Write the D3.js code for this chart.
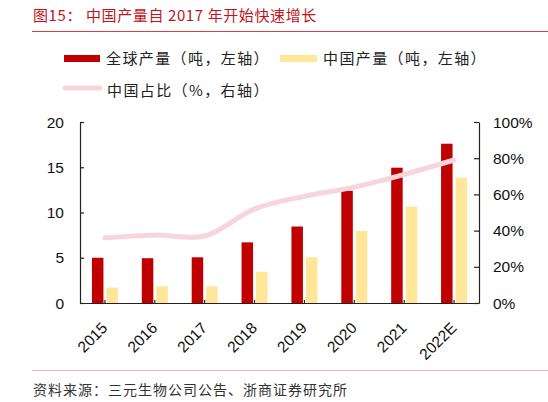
<!DOCTYPE html>
<html lang="zh">
<head>
<meta charset="utf-8">
<title>中国产量自2017年开始快速增长</title>
<script src="https://d3js.org/d3.v7.min.js"></script>
<style>
  body { margin: 0; background: #fff; overflow: hidden; }
  svg { display: block; }
</style>
</head>
<body>
<script>

// data
var years = ["2015", "2016", "2017", "2018", "2019", "2020", "2021", "2022E"];
var globalOutput = [5.0, 4.95, 5.05, 6.7, 8.45, 12.4, 14.95, 17.6];   // 吨, left axis
var chinaOutput = [1.7, 1.85, 1.85, 3.45, 5.05, 7.95, 10.65, 13.85];  // 吨, left axis
var chinaShare = [36, 37.5, 37, 52, 59, 64, 71, 79];                  // %, right axis
var leftTicks = [0, 5, 10, 15, 20];
var rightTicks = [0, 20, 40, 60, 80, 100];

var w = 548, h = 402;
var margin = {top: 122, right: 69, bottom: 99, left: 80};
var innerWidth = w - margin.left - margin.right;
var innerHeight = h - margin.top - margin.bottom;

var red = "#c00000", yellow = "#ffe699", pink = "#f6d5dc";
var cnFont = "'Noto Sans CJK SC', sans-serif";
var numFont = "'Liberation Sans', Arial, sans-serif";

var svg = d3.select("body").append("svg")
    .attr("width", w)
    .attr("height", h);

// title + rules
svg.append("text")
    .attr("x", 33).attr("y", 21)
    .attr("fill", "#c0141c")
    .style("font-family", cnFont)
    .style("font-size", "15px")
    .style("letter-spacing", "0.6px")
    .text("图15：   中国产量自 2017 年开始快速增长");

svg.append("line")
    .attr("x1", 32).attr("x2", w).attr("y1", 31.5).attr("y2", 31.5)
    .attr("stroke", "#c0141c").attr("stroke-width", 0.8);

svg.append("line")
    .attr("x1", 32).attr("x2", w).attr("y1", 370.5).attr("y2", 370.5)
    .attr("stroke", "#e8a0a0").attr("stroke-width", 0.8);

svg.append("text")
    .attr("x", 33).attr("y", 395)
    .attr("fill", "#333")
    .style("font-family", cnFont)
    .style("font-size", "14px")
    .style("letter-spacing", "1px")
    .text("资料来源：三元生物公司公告、浙商证券研究所");

// legend
var legend = svg.append("g").style("font-family", cnFont).style("font-size", "15px").style("letter-spacing", "1.4px");
legend.append("rect").attr("x", 64).attr("y", 55).attr("width", 36).attr("height", 7).attr("fill", red);
legend.append("text").attr("x", 106).attr("y", 64).attr("fill", "#222").text("全球产量（吨，左轴）");
legend.append("rect").attr("x", 280).attr("y", 55).attr("width", 37).attr("height", 7).attr("fill", yellow);
legend.append("text").attr("x", 323).attr("y", 64).attr("fill", "#222").text("中国产量（吨，左轴）");
legend.append("line").attr("x1", 65).attr("x2", 100).attr("y1", 88).attr("y2", 88)
    .attr("stroke", pink).attr("stroke-width", 5).attr("stroke-linecap", "round");
legend.append("text").attr("x", 107).attr("y", 96).attr("fill", "#222").text("中国占比（%，右轴）");

// scales (in page coordinates)
var xScale = d3.scaleBand().domain(years).range([margin.left, margin.left + innerWidth]);
var yLeft = d3.scaleLinear().domain([0, 20]).range([margin.top + innerHeight, margin.top]);
var yRight = d3.scaleLinear().domain([0, 100]).range([margin.top + innerHeight, margin.top]);
var baseY = margin.top + innerHeight;
var cx = d => xScale(d) + xScale.bandwidth() / 2;

var barW = 11.5;

svg.append("g").selectAll("rect")
    .data(years)
  .enter().append("rect")
    .attr("x", d => cx(d) - 13)
    .attr("y", (d, i) => yLeft(globalOutput[i]))
    .attr("width", barW)
    .attr("height", (d, i) => baseY - yLeft(globalOutput[i]))
    .attr("fill", red);

svg.append("g").selectAll("rect")
    .data(years)
  .enter().append("rect")
    .attr("x", d => cx(d) + 1.5)
    .attr("y", (d, i) => yLeft(chinaOutput[i]))
    .attr("width", barW)
    .attr("height", (d, i) => baseY - yLeft(chinaOutput[i]))
    .attr("fill", yellow);

// share line
var line = d3.line()
    .x((d, i) => cx(years[i]))
    .y(d => yRight(d))
    .curve(d3.curveCatmullRom.alpha(0.5));

svg.append("path")
    .datum(chinaShare)
    .attr("d", line)
    .attr("fill", "none")
    .attr("stroke", pink)
    .attr("stroke-width", 5)
    .attr("stroke-linecap", "round");

// axes (lines and inside ticks only; labels drawn below from the same scales)
var axisLeft = d3.axisLeft(yLeft).tickValues(leftTicks).tickSize(-4).tickSizeOuter(0).tickFormat("");
var axisRight = d3.axisRight(yRight).tickValues(rightTicks).tickSize(-5).tickSizeOuter(0).tickFormat("");
var axisBottom = d3.axisBottom(xScale).tickSize(-3).tickSizeOuter(0).tickFormat("");

svg.append("g").attr("transform", `translate(${margin.left}, 0)`).call(axisLeft);
svg.append("g").attr("transform", `translate(${margin.left + innerWidth}, 0)`).call(axisRight);
svg.append("g").attr("transform", `translate(0, ${baseY})`).call(axisBottom);

svg.selectAll(".domain, .tick line").attr("stroke", "#222").attr("stroke-width", 1.2);
svg.selectAll(".tick text").remove();

var labels = svg.append("g");

labels.selectAll(".yl")
    .data(leftTicks)
  .enter().append("text")
    .attr("class", "yl")
    .attr("x", margin.left - 16)
    .attr("y", d => yLeft(d) + 5.5)
    .attr("text-anchor", "end")
    .text(d => d);

labels.selectAll(".yr")
    .data(rightTicks)
  .enter().append("text")
    .attr("class", "yr")
    .attr("x", margin.left + innerWidth + 14)
    .attr("y", d => yRight(d) + 5.5)
    .text(d => d + "%");

labels.selectAll(".xl")
    .data(years)
  .enter().append("text")
    .attr("class", "xl")
    .attr("x", d => cx(d) + 3.5)
    .attr("y", baseY + 26)
    .attr("transform", d => `rotate(-45, ${cx(d) + 3.5}, ${baseY + 26})`)
    .attr("text-anchor", "end")
    .text(d => d);

labels.selectAll("text")
    .attr("fill", "#111")
    .style("font-family", numFont)
    .style("font-size", "15.5px");

</script>
</body>
</html>
